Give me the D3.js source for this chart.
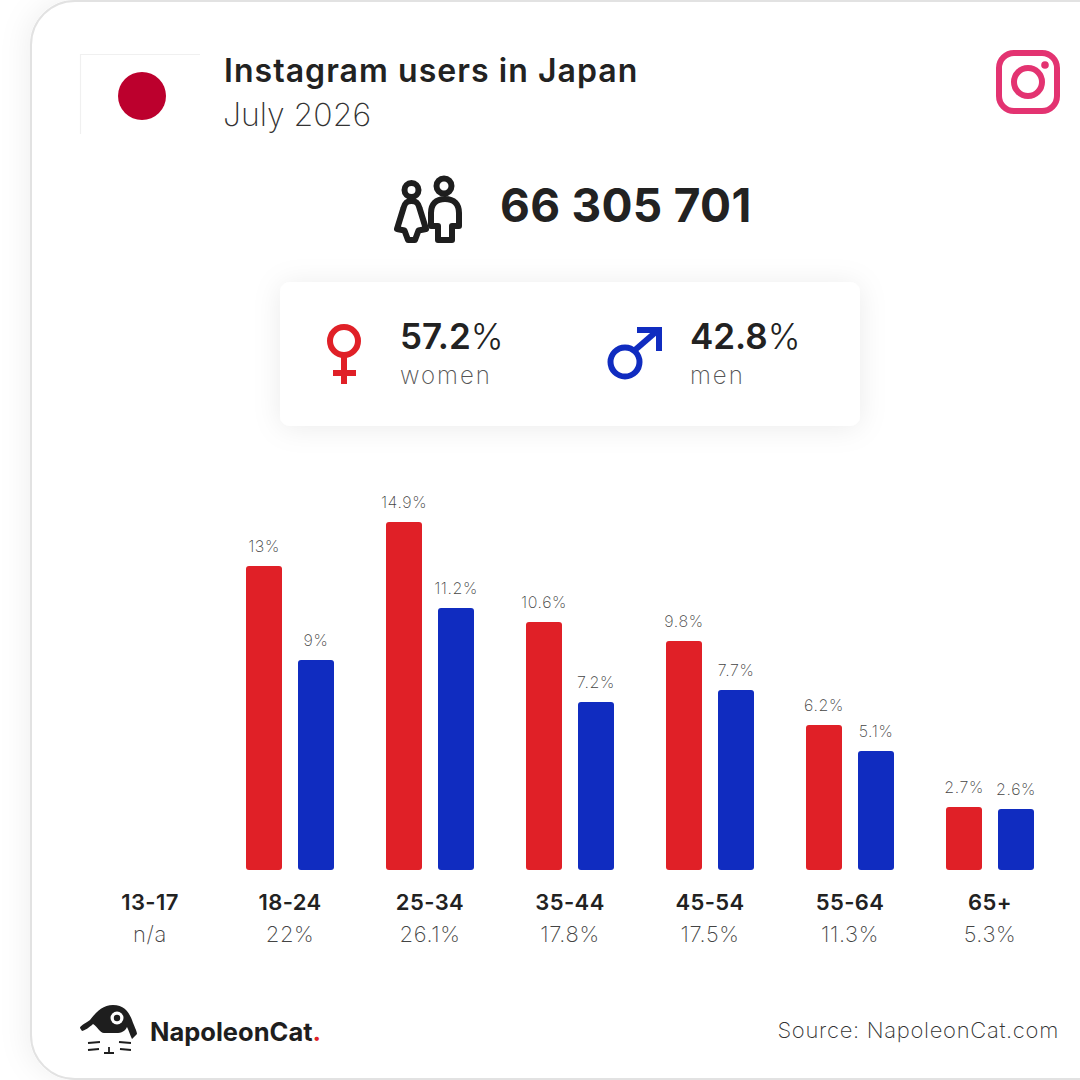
<!DOCTYPE html>
<html><head><meta charset="utf-8">
<script src="https://cdn.jsdelivr.net/npm/d3@7/dist/d3.min.js"></script>
<style>
html,body{margin:0;padding:0;background:#fff;overflow:hidden}
svg{display:block}
text{font-family:Inter,"Open Sans",sans-serif}
</style></head><body><svg id="c" width="1080" height="1080" viewBox="0 0 1080 1080"></svg>
<script>
const titleText="Instagram users in Japan";
const dateText="July 2026";
const totalText="66 305 701";
const womenShare="57.2%", menShare="42.8%";
const sourceText="Source: NapoleonCat.com";
const ageGroups=["13-17","18-24","25-34","35-44","45-54","55-64","65+"];
const groupTotals=["n/a","22%","26.1%","17.8%","17.5%","11.3%","5.3%"];
const womenValues=[null,13,14.9,10.6,9.8,6.2,2.7];
const menValues=[null,9,11.2,7.2,7.7,5.1,2.6];
const genders=["women","men"];
const genderColors=["#e02027","#102cc0"];

const svg=d3.select("#c");
const defs=svg.append("defs");
const f1=defs.append("filter").attr("id","cardShadow").attr("x","-10%").attr("y","-10%").attr("width","120%").attr("height","120%");
f1.append("feDropShadow").attr("dx",-4).attr("dy",0).attr("stdDeviation",14).attr("flood-color","#000").attr("flood-opacity",0.06);
const f2=defs.append("filter").attr("id","boxShadow").attr("x","-15%").attr("y","-30%").attr("width","130%").attr("height","160%");
f2.append("feDropShadow").attr("dx",0).attr("dy",2).attr("stdDeviation",14).attr("flood-color","#000").attr("flood-opacity",0.08);

svg.append("rect").attr("width",1080).attr("height",1080).attr("fill","#fff");
svg.append("rect").attr("x",31).attr("y",1).attr("width",1120).attr("height",1078).attr("rx",44)
  .attr("fill","#fff").attr("stroke","#e2e2e2").attr("stroke-width",2).attr("filter","url(#cardShadow)");

// flag
svg.append("path").attr("d","M200 54.500H80.500V134").attr("fill","none").attr("stroke","#f0f0f0").attr("stroke-width",1.200);
svg.append("circle").attr("cx",142).attr("cy",96).attr("r",24).attr("fill","#bc002d");

function t(x,y,s,size,weight,fill,anchor,ls){
  return svg.append("text").attr("x",x).attr("y",y).text(s).attr("font-size",size).attr("font-weight",weight)
    .attr("fill",fill).attr("text-anchor",anchor||"start").attr("letter-spacing",ls||0);
}
t(224,82,titleText,32,600,"#222","start",1.05);
t(223,126,dateText,32,200,"#333","start",0);

// instagram
const ig=svg.append("g").attr("fill","none").attr("stroke","#e33371").attr("stroke-width",6);
ig.append("rect").attr("x",999).attr("y",53).attr("width",58).attr("height",58).attr("rx",15);
ig.append("circle").attr("cx",1028).attr("cy",82).attr("r",14);
svg.append("circle").attr("cx",1045).attr("cy",65).attr("r",3.800).attr("fill","#e33371");

// people
const pp=svg.append("g").attr("fill","none").attr("stroke","#1e1e1e").attr("stroke-width",6).attr("stroke-linejoin","round");
pp.append("circle").attr("cx",411.500).attr("cy",190).attr("r",7);
pp.append("circle").attr("cx",444).attr("cy",186).attr("r",7.500);
pp.append("path").attr("d","M411.500 201C406 201 404.500 204 403.500 208L397 229L404.500 230.500L408 240H415L418.500 230.500L426 229L419.500 208C418.500 204 417 201 411.500 201Z");
pp.append("path").attr("d","M445 199C436 199 431 204 431 213V226H438V240H452V226H459V213C459 204 454 199 445 199Z");
t(500,222,totalText,46,700,"#222","start",0.3);

// share box
svg.append("rect").attr("x",280).attr("y",282).attr("width",580).attr("height",144).attr("rx",10).attr("fill","#fff").attr("filter","url(#boxShadow)");
const fem=svg.append("g").attr("fill","none").attr("stroke",genderColors[0]).attr("stroke-width",6);
fem.append("circle").attr("cx",344).attr("cy",341).attr("r",14);
fem.append("path").attr("d","M344 355V384M333 373H356");
const mal=svg.append("g").attr("fill","none").attr("stroke",genderColors[1]).attr("stroke-width",6);
mal.append("circle").attr("cx",625).attr("cy",362).attr("r",14.500);
mal.append("path").attr("d","M635 350L657 331");
svg.append("path").attr("d","M637 327H662V351H656V333H637Z").attr("fill",genderColors[1]);
function share(x,s,label){
  const tx=t(x,349,"",35,600,"#222");
  tx.append("tspan").text(s.slice(0,-1));
  tx.append("tspan").text("%").attr("font-weight",300);
  t(x,384,label,24,200,"#555","start",2);
}
share(400,womenShare,genders[0]);
share(690,menShare,genders[1]);

// chart
const x=d3.scaleBand().domain(ageGroups).range([80,1060]);
const inner=d3.scaleOrdinal().domain(genders).range([-44,8]);
const y=d3.scaleLinear().domain([0,14.9]).rangeRound([870,522]);
const rows=genders.flatMap((g,i)=>ageGroups.map((a,j)=>({g,i,a,v:(i?menValues:womenValues)[j]}))).filter(d=>d.v!=null);
const barPath=(x0,y0,w,h,r)=>`M${x0} ${y0+h-r}V${y0+r}Q${x0} ${y0} ${x0+r} ${y0}H${x0+w-r}Q${x0+w} ${y0} ${x0+w} ${y0+r}V${y0+h-r}Q${x0+w} ${y0+h} ${x0+w-r} ${y0+h}H${x0+r}Q${x0} ${y0+h} ${x0} ${y0+h-r}Z`;
const cx=a=>x(a)+x.bandwidth()/2;
svg.append("g").selectAll("path").data(rows).join("path")
  .attr("fill",d=>genderColors[d.i])
  .attr("d",d=>barPath(cx(d.a)+inner(d.g),y(d.v),36,870-y(d.v),3));
svg.append("g").selectAll("text").data(rows).join("text")
  .attr("x",d=>cx(d.a)+inner(d.g)+18).attr("y",d=>y(d.v)-14)
  .attr("text-anchor","middle").attr("font-size",16).attr("font-weight",200).attr("fill","#444").attr("letter-spacing",0.6)
  .text(d=>d.v+"%");
svg.append("g").selectAll("text").data(ageGroups).join("text")
  .attr("x",cx).attr("y",910).attr("text-anchor","middle").attr("font-size",22).attr("font-weight",600).attr("fill","#222").attr("letter-spacing",0.4).text(d=>d);
svg.append("g").selectAll("text").data(groupTotals).join("text")
  .attr("x",(d,i)=>cx(ageGroups[i])).attr("y",942).attr("text-anchor","middle").attr("font-size",22).attr("font-weight",200).attr("fill","#444").attr("letter-spacing",0.6).text(d=>d);

// logo
const logo=svg.append("g").attr("fill","#1e1e1e");
logo.append("path").attr("d","M80 1028C80 1026 84 1024 90 1020C96 1012 103 1005 113 1005C124 1005 129 1012 132 1020C134 1026 137 1031 137 1034L132 1039C130 1035 129 1031 127 1027C125 1031 122 1033 116 1033H104C100 1033 98 1027 93 1024C90 1027 84 1031 82 1031Z");
logo.append("circle").attr("cx",117).attr("cy",1018).attr("r",6.500).attr("fill","#fff");
logo.append("circle").attr("cx",117).attr("cy",1018).attr("r",3.200);
logo.append("path").attr("d","M88 1043L100 1042M88 1050L99 1049M119 1042L131 1043M120 1049L131 1050M109 1047V1053M104 1053H114").attr("stroke","#1e1e1e").attr("stroke-width",1.800).attr("fill","none");
const lt=t(150,1041,"",25.500,700,"#1e1e1e");
lt.append("tspan").text("NapoleonCat");
lt.append("tspan").text(".").attr("fill",genderColors[0]);
t(1059,1038,sourceText,22,200,"#333","end",0.7);
</script></body></html>
